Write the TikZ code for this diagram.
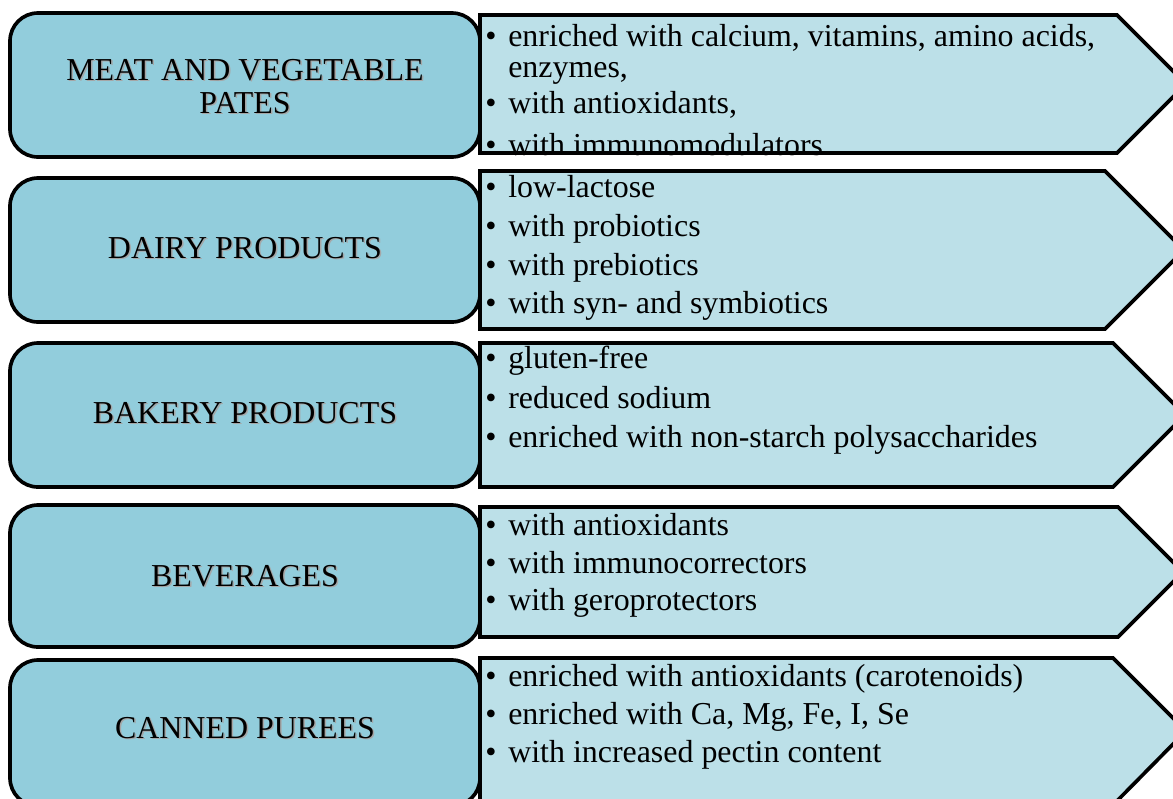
\documentclass[tikz,border=0pt]{standalone}
\usepackage{fontspec}
\setmainfont{Liberation Serif}
\usetikzlibrary{positioning}
\definecolor{catfill}{HTML}{92CDDC}
\definecolor{listfill}{HTML}{BCE0E8}
\newcommand{\itm}[1]{\makebox[0.575cm][l]{\textbullet}#1}
\newcommand{\cont}[1]{\hspace*{0.575cm}#1}

\begin{document}
\begin{tikzpicture}[x=0.025cm, y=-0.025cm,
    catbox/.style={draw=black, line width=2.6pt, fill=catfill, rounded corners=0.7cm},
    listbox/.style={draw=black, line width=2.6pt, fill=listfill, line join=miter},
    cattext/.style={align=center, inner sep=0pt, font=\fontsize{22.7}{23.5}\selectfont},
    catshade/.style={cattext, text=black!35},
    item/.style={anchor=base west, inner sep=0pt, font=\fontsize{22.7}{27}\selectfont}]
  \useasboundingbox (0,0) rectangle (1173,798);

  % category boxes
  \draw[catbox] (10,13) rectangle (480,157);
  \draw[catbox] (10,178) rectangle (480,322);
  \draw[catbox] (10,343) rectangle (480,487);
  \draw[catbox] (10,505) rectangle (480,647);
  \draw[catbox] (10,660) rectangle (480,806);

  % list arrows
  \draw[listbox] (480,15)--(1117,15)--(1186,84)--(1117,153)--(480,153)--cycle;
  \draw[listbox] (480,171)--(1105,171)--(1184,250)--(1105,329)--(480,329)--cycle;
  \draw[listbox] (480,343)--(1113,343)--(1185,415)--(1113,487)--(480,487)--cycle;
  \draw[listbox] (480,507)--(1118,507)--(1183,572)--(1118,637)--(480,637)--cycle;
  \draw[listbox] (480,658)--(1113,658)--(1186,731)--(1113,805)--(480,805)--cycle;

  % category names with their shadow
  \node[catshade] (meat-sh) at (246.5,88) {MEAT AND VEGETABLE\\PATES};
  \node[cattext] (meat) at (245,86.5) {MEAT AND VEGETABLE\\PATES};
  \node[catshade] (dairy-sh) at (246.5,249.5) {DAIRY PRODUCTS};
  \node[cattext] (dairy) at (245,248) {DAIRY PRODUCTS};
  \node[catshade] (bakery-sh) at (246.5,414.5) {BAKERY PRODUCTS};
  \node[cattext] (bakery) at (245,413) {BAKERY PRODUCTS};
  \node[catshade] (drinks-sh) at (246.5,577.5) {BEVERAGES};
  \node[cattext] (drinks) at (245,576) {BEVERAGES};
  \node[catshade] (purees-sh) at (246.5,729.5) {CANNED PUREES};
  \node[cattext] (purees) at (245,728) {CANNED PUREES};

  % lists
  \node[item] (meat1) at (485,46) {\itm{enriched with calcium, vitamins, amino acids,}};
  \node[item] (meat2) at (485,77) {\cont{enzymes,}};
  \node[item] (meat3) at (485,113) {\itm{with antioxidants,}};
  \node[item] (meat4) at (485,155) {\itm{with immunomodulators}};
  \draw[draw=black, line width=2.6pt] (478.5,153)--(1117,153);

  \node[item] (dairy1) at (485,197) {\itm{low-lactose}};
  \node[item] (dairy2) at (485,236) {\itm{with probiotics}};
  \node[item] (dairy3) at (485,275) {\itm{with prebiotics}};
  \node[item] (dairy4) at (485,313) {\itm{with syn- and symbiotics}};

  \node[item] (bakery1) at (485,368) {\itm{gluten-free}};
  \node[item] (bakery2) at (485,408) {\itm{reduced sodium}};
  \node[item] (bakery3) at (485,447) {\itm{enriched with non-starch polysaccharides}};

  \node[item] (drinks1) at (485,535) {\itm{with antioxidants}};
  \node[item] (drinks2) at (485,573) {\itm{with immunocorrectors}};
  \node[item] (drinks3) at (485,610) {\itm{with geroprotectors}};

  \node[item] (purees1) at (485,686) {\itm{enriched with antioxidants (carotenoids)}};
  \node[item] (purees2) at (485,724) {\itm{enriched with Ca, Mg, Fe, I, Se}};
  \node[item] (purees3) at (485,762) {\itm{with increased pectin content}};
\end{tikzpicture}
\end{document}
